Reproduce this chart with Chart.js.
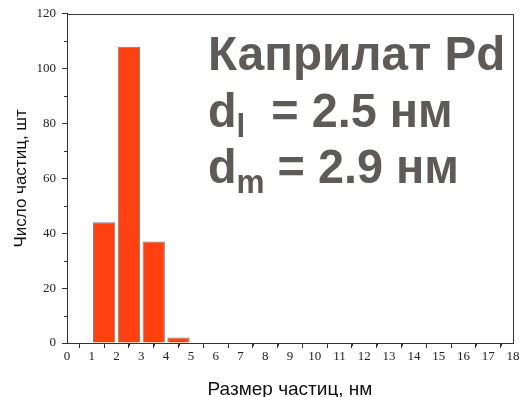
<!DOCTYPE html>
<html>
<head>
<meta charset="utf-8">
<script src="https://cdn.jsdelivr.net/npm/chart.js@4/dist/chart.umd.min.js"></script>
<style>
  html, body { margin: 0; padding: 0; background: #fff; }
  #wrap { width: 521px; height: 397px; }
</style>
</head>
<body>
<div id="wrap"><canvas id="c" width="521" height="397"></canvas></div>
<script>
// Particle size histogram: bin centres (nm) and particle counts
const binCenters = [1.5, 2.5, 3.5, 4.5];
const counts = [44, 108, 37, 2];

// Axis ranges and tick steps
const xMin = 0, xMax = 18, xStep = 1;
const yMin = 0, yMax = 120, yStep = 20;

// Annotation text
const titleLine = 'Каприлат Pd';
const sizeLines = [
  { main: 'd', sub: 'l', rest: '  = 2.5 нм' },
  { main: 'd', sub: 'm', rest: ' = 2.9 нм' }
];

const axisColor = '#333';
const textGrey = '#5e5a58';

// Frame on top/right, short minor ticks, and the sample annotation
const framePlugin = {
  id: 'frame',
  afterDraw(chart) {
    const { ctx, chartArea: a, scales: { x, y } } = chart;
    ctx.save();
    ctx.strokeStyle = axisColor;
    ctx.lineWidth = 1;
    ctx.beginPath();
    ctx.moveTo(a.left, Math.round(a.top) + 0.5);
    ctx.lineTo(Math.round(a.right) + 0.5, Math.round(a.top) + 0.5);
    ctx.lineTo(Math.round(a.right) + 0.5, a.bottom);
    for (let v = xMin + xStep / 2; v < xMax; v += xStep) {
      const px = Math.round(x.getPixelForValue(v)) + 0.5;
      ctx.moveTo(px, Math.round(a.bottom));
      ctx.lineTo(px, Math.round(a.bottom) + 3);
    }
    for (let v = yMin + yStep / 2; v < yMax; v += yStep) {
      const py = Math.round(y.getPixelForValue(v)) + 0.5;
      ctx.moveTo(Math.round(a.left), py);
      ctx.lineTo(Math.round(a.left) - 3, py);
    }
    ctx.stroke();

    ctx.fillStyle = textGrey;
    ctx.textBaseline = 'alphabetic';
    ctx.textAlign = 'left';
    const big = 'bold 49px "Liberation Sans", Arial, sans-serif';
    const small = 'bold 33px "Liberation Sans", Arial, sans-serif';
    const x0 = 208;

    ctx.save();
    ctx.translate(x0, 0);
    ctx.scale(0.972, 1);
    ctx.font = big;
    ctx.fillText(titleLine, 0, 70);
    ctx.restore();

    const baselines = [127, 183];
    sizeLines.forEach((ln, i) => {
      const b = baselines[i];
      ctx.save();
      ctx.translate(x0, 0);
      ctx.scale(0.955, 1);
      let cx = 0;
      ctx.font = big;
      ctx.fillText(ln.main, cx, b);
      cx += ctx.measureText(ln.main).width;
      ctx.font = small;
      ctx.fillText(ln.sub, cx, b + 10);
      cx += ctx.measureText(ln.sub).width;
      ctx.font = big;
      ctx.fillText(ln.rest, cx, b);
      ctx.restore();
    });
    ctx.restore();
  }
};

new Chart(document.getElementById('c'), {
  type: 'bar',
  data: {
    datasets: [{
      data: binCenters.map((c, i) => ({ x: c, y: counts[i] })),
      backgroundColor: '#ff4010',
      borderColor: 'rgba(90,90,90,0.8)',
      borderWidth: 1,
      barPercentage: 0.9,
      categoryPercentage: 1
    }]
  },
  options: {
    responsive: false,
    animation: false,
    events: [],
    layout: { padding: { top: 11, right: 8, left: 0, bottom: 0 } },
    plugins: { legend: { display: false }, tooltip: { enabled: false } },
    scales: {
      x: {
        type: 'linear',
        min: xMin, max: xMax,
        offset: false,
        afterFit(s) { s.height = 54; },
        ticks: {
          stepSize: xStep,
          autoSkip: false,
          maxRotation: 0,
          padding: 1,
          color: '#222',
          font: { family: '"Liberation Serif", "Times New Roman", serif', size: 13 }
        },
        grid: { drawOnChartArea: false, drawTicks: true, tickLength: 5, tickColor: axisColor },
        border: { display: true, color: axisColor, width: 1 },
        title: {
          display: true,
          text: 'Размер частиц, нм',
          color: '#111',
          padding: { top: 0, bottom: -4 },
          font: { family: '"Liberation Sans", Arial, sans-serif', size: 19 }
        }
      },
      y: {
        min: yMin, max: yMax,
        afterFit(s) { s.width = 67; },
        ticks: {
          stepSize: yStep,
          padding: 6,
          color: '#222',
          font: { family: '"Liberation Serif", "Times New Roman", serif', size: 13 }
        },
        grid: { drawOnChartArea: false, drawTicks: true, tickLength: 5, tickColor: axisColor },
        border: { display: true, color: axisColor, width: 1 },
        title: {
          display: true,
          text: 'Число частиц, шт',
          color: '#111',
          padding: { top: 11, bottom: 0 },
          font: { family: '"Liberation Sans", Arial, sans-serif', size: 17 }
        }
      }
    }
  },
  plugins: [framePlugin]
});
</script>
</body>
</html>
